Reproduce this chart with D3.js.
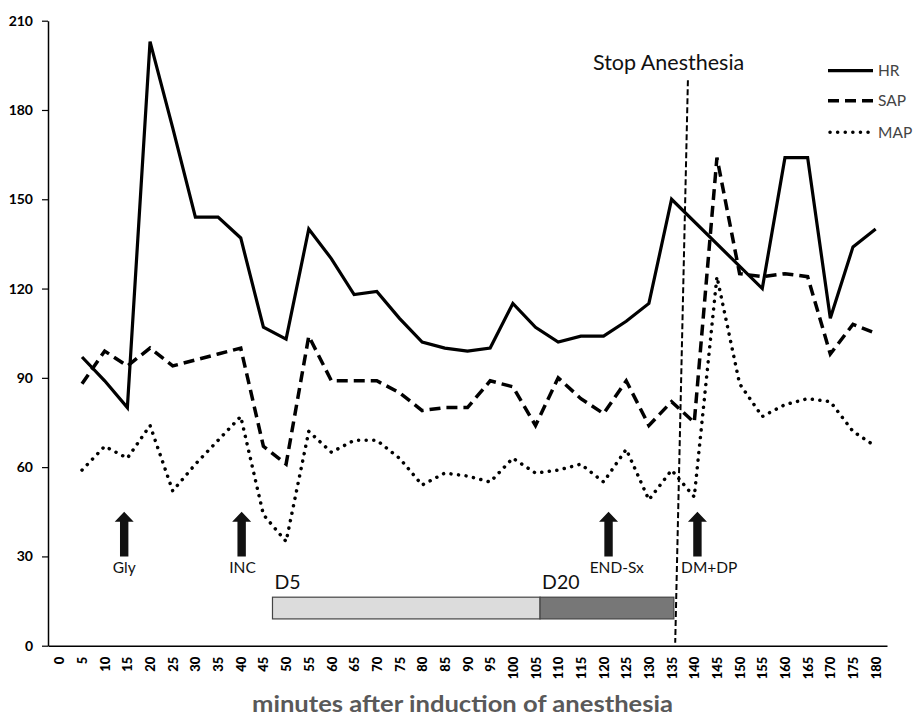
<!DOCTYPE html>
<html>
<head>
<meta charset="utf-8">
<script src="https://cdn.jsdelivr.net/npm/d3@7"></script>
<style>
body { margin: 0; background: #fff; }
text { font-family: Lato, "Open Sans", sans-serif; }
</style>
</head>
<body>
<svg id="chart" width="916" height="718"></svg>
<script>
// minutes after induction (category axis)
var times = [0, 5, 10, 15, 20, 25, 30, 35, 40, 45, 50, 55, 60, 65, 70, 75, 80, 85, 90,
             95, 100, 105, 110, 115, 120, 125, 130, 135, 140, 145, 150, 155, 160, 165, 170, 175, 180];

var hr  = [null, 97, 89, 80, 203, 174, 144, 144, 137, 107, 103, 140, 130, 118, 119, 110, 102, 100, 99,
           100, 115, 107, 102, 104, 104, 109, 115, 150, null, null, null, 120, 164, 164, 110, 134, 140];
var sap = [null, 88, 99, 94, 100, 94, 96, 98, 100, 67, 61, 104, 89, 89, 89, 85, 79, 80, 80,
           89, 87, 74, 90, 83, 78, 89, 74, 82, 75, 164, 125, 124, 125, 124, 98, 108, 105];
var map = [null, 59, 67, 63, 74, 52, 61, 69, 77, 44, 35, 72, 65, 69, 69, 63, 54, 58, 57,
           55, 63, 58, 59, 61, 55, 66, 49, 59, 50, 124, 88, 77, 81, 83, 82, 72, 67];

var yTicks = [0, 30, 60, 90, 120, 150, 180, 210];

// drug events (arrows)
var eventNames = ["Gly", "INC", "END-Sx", "DM+DP"];
var eventTimes = [14.3, 40.2, 121.1, 140.7];
var eventLabelTimes = [14.3, 40.4, 122.9, 137.1];

// infusion bars
var doseNames  = ["D5", "D20"];
var doseStart  = [47, 106];
var doseEnd    = [106, 135.5];
var doseColors = ["#dcdcdc", "#777777"];

var stopLine = [{t: 138.6, v: 190}, {t: 135.8, v: 1}];

var svg = d3.select("#chart");
svg.append("rect").attr("width", 916).attr("height", 718).attr("fill", "#fff");

var x = d3.scaleLinear().domain([-2.5, 182.5]).range([48, 887]);
var y = d3.scaleLinear().domain([0, 210]).range([645.7, 20.7]);

// y axis
var yAxis = d3.axisLeft(y).tickValues(yTicks).tickSize(6).tickSizeOuter(0);
var gy = svg.append("g").attr("transform", "translate(48,0)").call(yAxis);
gy.select(".domain").attr("stroke", "#000").attr("stroke-width", 1.5);
gy.selectAll(".tick line").attr("stroke", "#000").attr("stroke-width", 1.2);
gy.selectAll(".tick text").attr("x", -15).attr("font-size", 14).attr("font-weight", "bold")
  .attr("fill", "#000").style("font-family", "Lato, sans-serif");

// x axis
var xAxis = d3.axisBottom(x).tickValues(times).tickSize(0).tickSizeOuter(0);
var gx = svg.append("g").attr("transform", "translate(0,645.7)").call(xAxis);
gx.select(".domain").attr("stroke", "#000").attr("stroke-width", 1.5);
gx.selectAll(".tick text")
  .attr("transform", "rotate(-90)")
  .attr("text-anchor", "end")
  .attr("x", -11).attr("y", 0).attr("dy", "0.35em")
  .attr("font-size", 13).attr("font-weight", 900).attr("fill", "#000")
  .style("font-family", "Lato, sans-serif");

svg.append("text")
  .attr("x", 252).attr("y", 712)
  .attr("font-size", 23).attr("font-weight", "bold").attr("fill", "#595959")
  .attr("textLength", 421).attr("lengthAdjust", "spacingAndGlyphs")
  .text("minutes after induction of anesthesia");

// infusion bars
doseNames.forEach(function (name, i) {
  svg.append("rect")
    .attr("x", x(doseStart[i])).attr("y", y(16.3))
    .attr("width", x(doseEnd[i]) - x(doseStart[i]))
    .attr("height", y(9) - y(16.3))
    .attr("fill", doseColors[i]).attr("stroke", "#444").attr("stroke-width", 1.2);
  svg.append("text")
    .attr("x", x(doseStart[i]) + 2).attr("y", 589)
    .attr("font-size", 19.5).attr("fill", "#111")
    .text(name);
});

// series
function seriesPoints(values) {
  var pts = [];
  for (var i = 0; i < times.length; i++) {
    if (values[i] != null) pts.push([times[i], values[i]]);
  }
  return pts;
}
var line = d3.line().x(function (d) { return x(d[0]); }).y(function (d) { return y(d[1]); });

svg.append("path").datum(seriesPoints(map)).attr("d", line)
  .attr("fill", "none").attr("stroke", "#000").attr("stroke-width", 3.5)
  .attr("stroke-linecap", "round").attr("stroke-dasharray", "0.1,7.5");
svg.append("path").datum(seriesPoints(sap)).attr("d", line)
  .attr("fill", "none").attr("stroke", "#000").attr("stroke-width", 3.5)
  .attr("stroke-dasharray", "11,6");
svg.append("path").datum(seriesPoints(hr)).attr("d", line)
  .attr("fill", "none").attr("stroke", "#000").attr("stroke-width", 3.2)
  .attr("stroke-linejoin", "miter");

// stop anesthesia line
svg.append("path").datum(stopLine)
  .attr("d", d3.line().x(function (d) { return x(d.t); }).y(function (d) { return y(d.v); }))
  .attr("fill", "none").attr("stroke", "#000").attr("stroke-width", 2)
  .attr("stroke-dasharray", "6,3");
svg.append("text").attr("x", 593).attr("y", 70)
  .attr("font-size", 21.5).attr("fill", "#111").text("Stop Anesthesia");

// arrows
eventNames.forEach(function (name, i) {
  var cx = x(eventTimes[i]), top = y(45), bottom = y(30);
  svg.append("path")
    .attr("d", "M" + cx + "," + top + "L" + (cx + 9.5) + "," + (top + 10) + "L" + (cx + 4.2) + "," + (top + 10) +
               "L" + (cx + 4.2) + "," + bottom + "L" + (cx - 4.2) + "," + bottom + "L" + (cx - 4.2) + "," + (top + 10) +
               "L" + (cx - 9.5) + "," + (top + 10) + "Z")
    .attr("fill", "#111");
  svg.append("text")
    .attr("x", x(eventLabelTimes[i])).attr("y", 573)
    .attr("text-anchor", i == 3 ? "start" : "middle")
    .attr("font-size", 15.5).attr("fill", "#111")
    .text(name);
});

// legend
var legendNames = ["HR", "SAP", "MAP"];
var legendDash  = ["none", "11,6", "0.1,7.5"];
var legendY     = [70.7, 100.7, 132.3];
legendNames.forEach(function (name, i) {
  svg.append("line")
    .attr("x1", i == 2 ? 830 : 828).attr("x2", 873)
    .attr("y1", legendY[i]).attr("y2", legendY[i])
    .attr("stroke", "#000").attr("stroke-width", i == 0 ? 3.2 : 3.5)
    .attr("stroke-linecap", i == 2 ? "round" : "butt")
    .attr("stroke-dasharray", legendDash[i]);
  svg.append("text").attr("x", 878).attr("y", legendY[i] + 5.5)
    .attr("font-size", 15.5).attr("fill", "#444").text(name);
});
</script>
</body>
</html>
